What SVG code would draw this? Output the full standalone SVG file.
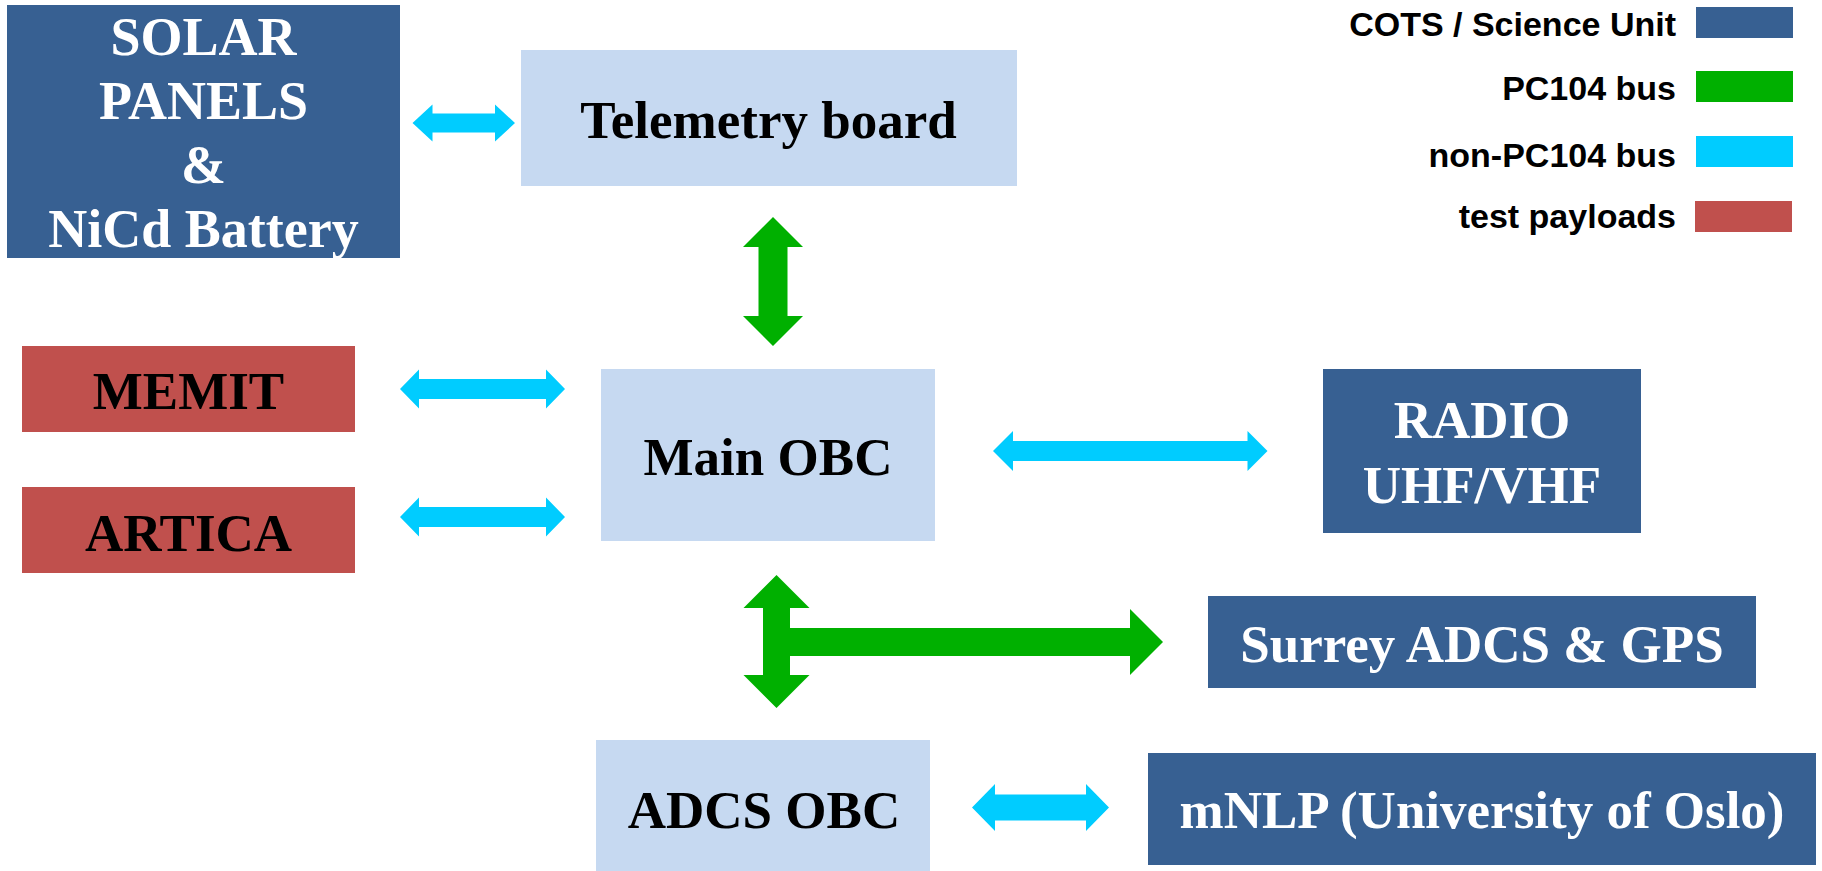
<svg xmlns="http://www.w3.org/2000/svg" width="1822" height="871" viewBox="0 0 1822 871">
<style>
.cots{fill:#376092}
.obc{fill:#C6D9F1}
.test{fill:#C0504D}
.pc{fill:#00B000}
.npc{fill:#00CCFF}
.t{font-family:"Liberation Serif","Times New Roman",serif;font-weight:bold;font-size:53px;text-anchor:middle}
.w{fill:#FFFFFF}
.k{fill:#000000}
.lg{font-family:"Liberation Sans",Arial,sans-serif;font-weight:bold;font-size:34px;text-anchor:end;fill:#000}
</style>
<rect width="1822" height="871" fill="#FFFFFF"/>
<g id="legend">
<text class="lg" x="1676" y="36">COTS / Science Unit</text>
<rect class="cots" x="1696" y="7" width="97" height="31"/>
<text class="lg" x="1676" y="100">PC104 bus</text>
<rect class="pc" x="1696" y="71" width="97" height="31"/>
<text class="lg" x="1676" y="167">non-PC104 bus</text>
<rect class="npc" x="1696" y="136" width="97" height="31"/>
<text class="lg" x="1676" y="228">test payloads</text>
<rect class="test" x="1695" y="201" width="97" height="31"/>
</g>
<g id="connectors">
<path class="npc" d="M412.5 123 L432.5 104.5 L432.5 113.5 L495 113.5 L495 104.5 L515 123 L495 141.5 L495 132.5 L432.5 132.5 L432.5 141.5 Z"/>
<path class="npc" d="M400 389 L419 369.5 L419 379 L546 379 L546 369.5 L565 389 L546 408.5 L546 399 L419 399 L419 408.5 Z"/>
<path class="npc" d="M400 517 L419 497.5 L419 507 L546 507 L546 497.5 L565 517 L546 536.5 L546 527 L419 527 L419 536.5 Z"/>
<path class="npc" d="M993 451 L1013 431 L1013 441 L1247.5 441 L1247.5 431 L1267.5 451 L1247.5 471 L1247.5 461 L1013 461 L1013 471 Z"/>
<path class="npc" d="M972 807.5 L995 784 L995 794.5 L1086 794.5 L1086 784 L1109 807.5 L1086 831 L1086 820.5 L995 820.5 L995 831 Z"/>
<path class="pc" d="M773 217 L803 247 L787.5 247 L787.5 316 L803 316 L773 346 L743 316 L758.5 316 L758.5 247 L743 247 Z"/>
<path class="pc" d="M776.5 575 L809.5 608 L790 608 L790 628 L1130 628 L1130 609 L1163 642 L1130 675 L1130 656 L790 656 L790 675 L809.5 675 L776.5 708 L743.5 675 L763 675 L763 608 L743.5 608 Z"/>
</g>
<g id="solar">
<rect class="cots" x="7" y="5" width="393" height="253"/>
<text class="t w" x="203.5" style="font-size:54px"><tspan x="203.5" y="55">SOLAR</tspan><tspan x="203.5" y="119">PANELS</tspan><tspan x="203.5" y="183">&amp;</tspan><tspan x="203.5" y="247">NiCd Battery</tspan></text>
</g>
<g id="telemetry">
<rect class="obc" x="521" y="50" width="496" height="136"/>
<text class="t k" x="768.5" y="138">Telemetry board</text>
</g>
<g id="memit">
<rect class="test" x="22" y="346" width="333" height="86"/>
<text class="t k" x="188.5" y="409">MEMIT</text>
</g>
<g id="artica">
<rect class="test" x="22" y="487" width="333" height="86"/>
<text class="t k" x="188.5" y="551">ARTICA</text>
</g>
<g id="main-obc">
<rect class="obc" x="601" y="369" width="334" height="172"/>
<text class="t k" x="768" y="475">Main OBC</text>
</g>
<g id="radio">
<rect class="cots" x="1323" y="369" width="318" height="164"/>
<text class="t w" x="1482"><tspan x="1482" y="438">RADIO</tspan><tspan x="1482" y="503">UHF/VHF</tspan></text>
</g>
<g id="surrey">
<rect class="cots" x="1208" y="596" width="548" height="92"/>
<text class="t w" x="1482" y="662">Surrey ADCS &amp; GPS</text>
</g>
<g id="adcs-obc">
<rect class="obc" x="596" y="740" width="334" height="131"/>
<text class="t k" x="764" y="828">ADCS OBC</text>
</g>
<g id="mnlp">
<rect class="cots" x="1148" y="753" width="668" height="112"/>
<text class="t w" x="1482" y="828">mNLP (University of Oslo)</text>
</g>
</svg>
